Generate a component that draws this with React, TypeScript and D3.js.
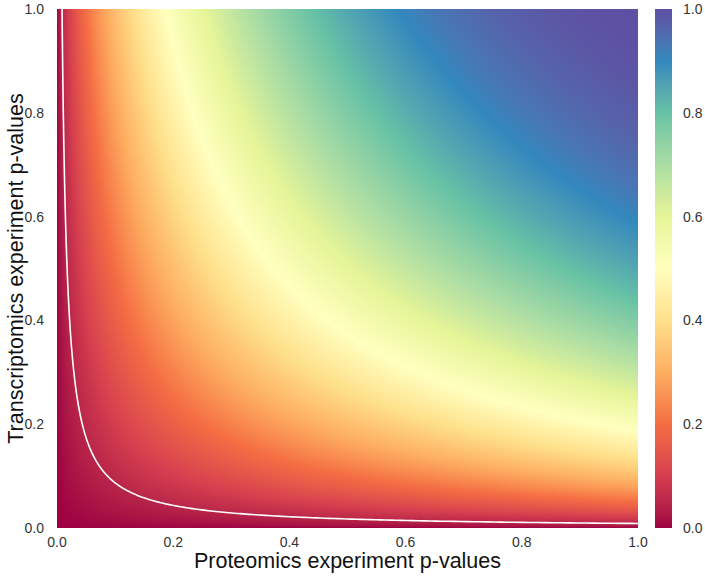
import React, { useMemo } from 'react';
import * as d3 from 'd3';

// axis ticks (p-values) and the colour bar ticks
const P_TICKS = [0, 0.2, 0.4, 0.6, 0.8, 1.0];
const LEGEND_TICKS = [0, 0.2, 0.4, 0.6, 0.8, 1.0];
const SIG_LEVEL = [0.05];
const SPECTRAL = ['#9E0142', '#D53E4F', '#F46D43', '#FDAE61', '#FEE08B', '#FFFFBF',
    '#E6F598', '#ABDDA4', '#66C2A5', '#3288BD', '#5E4FA2'];
const X_TITLE = 'Proteomics experiment p-values';
const Y_TITLE = 'Transcriptomics experiment p-values';

const W = 705;
const H = 581;
const margin = { top: 9, right: 67, bottom: 53, left: 57 };
const pw = W - margin.left - margin.right;
const ph = H - margin.top - margin.bottom;
const FONT = '"Liberation Sans", Arial, sans-serif';

// Fisher's combined p-value for two tests
const fisher = (p1: number, p2: number) => {
    const k = p1 * p2;
    if (k <= 0) return 0;
    return Math.min(1, k * (1 - Math.log(k)));
};

const x = d3.scaleLinear().domain([0, 1]).range([0, pw]);
const y = d3.scaleLinear().domain([0, 1]).range([ph, 0]);
const color = d3.scaleLinear<string>()
    .domain(SPECTRAL.map((_, i) => i / (SPECTRAL.length - 1)))
    .range(SPECTRAL)
    .interpolate(d3.interpolateLab)
    .clamp(true);

// value of p1*p2 where the combined p equals the level
function solveK(level: number) {
    let lo = 1e-9, hi = 1;
    for (let i = 0; i < 80; i++) {
        const mid = (lo + hi) / 2;
        if (fisher(mid, 1) < level) lo = mid; else hi = mid;
    }
    return (lo + hi) / 2;
}

function useRaster() {
    return useMemo(() => {
        const canvas = document.createElement('canvas');
        canvas.width = Math.round(pw);
        canvas.height = Math.round(ph);
        const ctx = canvas.getContext('2d');
        if (!ctx) return '';
        const lut = d3.range(1024).map(i => d3.rgb(color(i / 1023)));
        const img = ctx.createImageData(canvas.width, canvas.height);
        for (let j = 0; j < canvas.height; j++) {
            const p2 = y.invert(j + 0.5);
            for (let i = 0; i < canvas.width; i++) {
                const p1 = x.invert(i + 0.5);
                const c = lut[Math.round(fisher(p1, p2) * 1023)];
                const o = (j * canvas.width + i) * 4;
                img.data[o] = c.r;
                img.data[o + 1] = c.g;
                img.data[o + 2] = c.b;
                img.data[o + 3] = 255;
            }
        }
        ctx.putImageData(img, 0, 0);
        return canvas.toDataURL();
    }, []);
}

export default function App() {
    const href = useRaster();

    const contours = SIG_LEVEL.map(level => {
        const k = solveK(level);
        const pts = d3.range(0, 301).map(i => {
            const px = k * Math.pow(1 / k, i / 300);
            return [px, k / px] as [number, number];
        });
        return d3.line<[number, number]>().x(d => x(d[0])).y(d => y(d[1]))(pts) || '';
    });

    const legY = d3.scaleLinear().domain([0, 1]).range([ph, 0]);
    const stops = d3.range(0, 41).map(i => i / 40);

    return (
        <svg width={W} height={H} style={{ position: 'absolute', left: 0, top: 0, background: '#fff' }}
            fontFamily={FONT}>
            <defs>
                <clipPath id="panel">
                    <rect width={pw} height={ph} />
                </clipPath>
                <linearGradient id="leg" x1="0" y1="1" x2="0" y2="0">
                    {stops.map(s => (
                        <stop key={s} offset={s} stopColor={color(s)} />
                    ))}
                </linearGradient>
            </defs>
            <g transform={`translate(${margin.left},${margin.top})`}>
                <image href={href} width={pw} height={ph} preserveAspectRatio="none" />
                <g clipPath="url(#panel)">
                    {contours.map((d, i) => (
                        <path key={i} d={d} fill="none" stroke="#fff" strokeWidth={1.6} />
                    ))}
                </g>
                {P_TICKS.map(t => (
                    <text key={'x' + t} x={x(t)} y={ph + 19} textAnchor="middle" fontSize={14} fill="#333">
                        {t.toFixed(1)}
                    </text>
                ))}
                {P_TICKS.map(t => (
                    <text key={'y' + t} x={-13} y={y(t) + 5} textAnchor="end" fontSize={14} fill="#333">
                        {t.toFixed(1)}
                    </text>
                ))}
                <text x={pw / 2} y={ph + 40} textAnchor="middle" fontSize={21.5} fill="#111">{X_TITLE}</text>
                <text transform={`translate(${-34},${ph / 2}) rotate(-90)`} textAnchor="middle" fontSize={21.5} fill="#111">
                    {Y_TITLE}
                </text>
                <g transform={`translate(${pw + 17},0)`}>
                    <rect width={17} height={ph} fill="url(#leg)" />
                    {LEGEND_TICKS.map(t => (
                        <text key={'l' + t} x={28} y={legY(t) + 5} fontSize={14} fill="#333">
                            {t.toFixed(1)}
                        </text>
                    ))}
                </g>
            </g>
        </svg>
    );
}
